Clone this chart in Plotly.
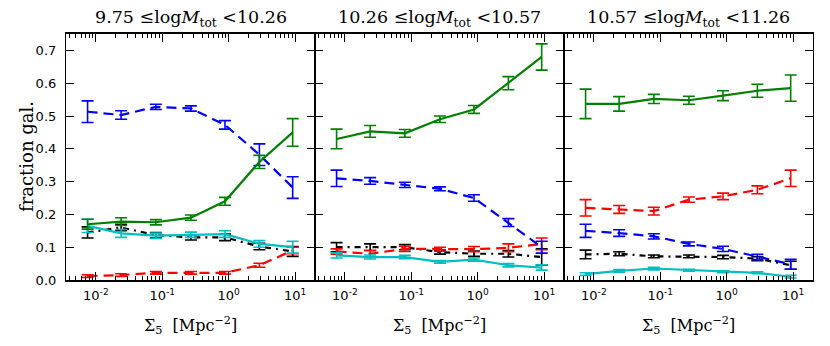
import plotly.graph_objects as go

# Sigma_5 bin centres (Mpc^-2)
sigma5 = [0.0075, 0.024, 0.08, 0.27, 0.88, 2.9, 9.2]

panel_titles = [
    "9.75 ≤log<i>M</i><sub>tot</sub> <10.26",
    "10.26 ≤log<i>M</i><sub>tot</sub> <10.57",
    "10.57 ≤log<i>M</i><sub>tot</sub> <11.26",
]

# panel 1
green_1 = [0.170, 0.178, 0.176, 0.190, 0.240, 0.360, 0.450]
green_1_err = [0.015, 0.012, 0.008, 0.008, 0.012, 0.020, 0.042]
blue_1 = [0.513, 0.503, 0.528, 0.523, 0.473, 0.382, 0.282]
blue_1_err = [0.033, 0.013, 0.008, 0.008, 0.013, 0.033, 0.033]
cyan_1 = [0.165, 0.142, 0.135, 0.138, 0.140, 0.110, 0.100]
cyan_1_err = [0.020, 0.012, 0.008, 0.008, 0.010, 0.010, 0.018]
black_1 = [0.145, 0.160, 0.137, 0.130, 0.130, 0.102, 0.087]
black_1_err = [0.017, 0.010, 0.008, 0.008, 0.010, 0.010, 0.015]
red_1 = [0.012, 0.015, 0.022, 0.022, 0.022, 0.045, 0.090]
red_1_err = [0.004, 0.004, 0.004, 0.004, 0.004, 0.006, 0.010]

# panel 2
green_2 = [0.430, 0.453, 0.447, 0.490, 0.520, 0.600, 0.680]
green_2_err = [0.030, 0.018, 0.012, 0.010, 0.012, 0.020, 0.040]
blue_2 = [0.310, 0.302, 0.290, 0.278, 0.250, 0.175, 0.100]
blue_2_err = [0.025, 0.010, 0.008, 0.006, 0.010, 0.012, 0.018]
red_2 = [0.087, 0.080, 0.095, 0.094, 0.094, 0.098, 0.110]
red_2_err = [0.008, 0.010, 0.008, 0.006, 0.008, 0.012, 0.018]
black_2 = [0.100, 0.100, 0.100, 0.085, 0.080, 0.080, 0.070]
black_2_err = [0.014, 0.010, 0.008, 0.006, 0.008, 0.010, 0.025]
cyan_2 = [0.075, 0.070, 0.070, 0.055, 0.062, 0.045, 0.038]
cyan_2_err = [0.008, 0.006, 0.005, 0.004, 0.005, 0.005, 0.008]

# panel 3
green_3 = [0.537, 0.537, 0.552, 0.548, 0.562, 0.577, 0.585]
green_3_err = [0.045, 0.022, 0.014, 0.012, 0.015, 0.020, 0.040]
red_3 = [0.220, 0.215, 0.210, 0.245, 0.255, 0.275, 0.310]
red_3_err = [0.025, 0.012, 0.012, 0.008, 0.010, 0.012, 0.025]
blue_3 = [0.150, 0.143, 0.133, 0.110, 0.095, 0.070, 0.048]
blue_3_err = [0.020, 0.010, 0.008, 0.006, 0.008, 0.008, 0.015]
black_3 = [0.078, 0.080, 0.072, 0.072, 0.070, 0.065, 0.045]
black_3_err = [0.013, 0.006, 0.004, 0.004, 0.005, 0.006, 0.012]
cyan_3 = [0.018, 0.028, 0.035, 0.030, 0.025, 0.022, 0.010]
cyan_3_err = [0.004, 0.004, 0.004, 0.003, 0.003, 0.003, 0.004]

styles = {
    "green": dict(color="#008000", dash="solid"),
    "blue": dict(color="#0000ff", dash="10px,6px"),
    "red": dict(color="#ff0000", dash="10px,6px"),
    "black": dict(color="#000000", dash="6px,5px,2px,5px"),
    "cyan": dict(color="#00bfbf", dash="solid"),
}

panels = [
    [("black", black_1, black_1_err), ("red", red_1, red_1_err), ("cyan", cyan_1, cyan_1_err),
     ("blue", blue_1, blue_1_err), ("green", green_1, green_1_err)],
    [("black", black_2, black_2_err), ("red", red_2, red_2_err), ("cyan", cyan_2, cyan_2_err),
     ("blue", blue_2, blue_2_err), ("green", green_2, green_2_err)],
    [("black", black_3, black_3_err), ("red", red_3, red_3_err), ("cyan", cyan_3, cyan_3_err),
     ("blue", blue_3, blue_3_err), ("green", green_3, green_3_err)],
]

fig = go.Figure()

# page puts the plot div 8px in from the corner, so size/margins allow for that
W, H = 822, 338
left, right, top, bottom = 58, 17, 26, 66

tickfont = dict(family="DejaVu Sans", size=13, color="black")
title_font = dict(family="DejaVu Serif", size=17.5, color="black")
label_font = dict(family="DejaVu Serif", size=16, color="black")

for i, series in enumerate(panels):
    xa = "x" if i == 0 else f"x{i+1}"
    ya = "y" if i == 0 else f"y{i+1}"
    for name, vals, errs in series:
        st = styles[name]
        fig.add_trace(go.Scatter(
            x=sigma5, y=vals, mode="lines",
            line=dict(color=st["color"], width=2.2, dash=st["dash"]),
            error_y=dict(type="data", array=errs, visible=True, color=st["color"],
                         thickness=1.6, width=6),
            xaxis=xa, yaxis=ya, showlegend=False,
        ))

    x0 = i / 3
    x1 = (i + 1) / 3
    xkey = "xaxis" if i == 0 else f"xaxis{i+1}"
    ykey = "yaxis" if i == 0 else f"yaxis{i+1}"
    fig.layout[xkey] = dict(
        type="log", domain=[x0, x1], range=[-2.45, 1.3], anchor=ya, automargin=False,
        tickvals=[0.01, 0.1, 1, 10],
        ticktext=["10<sup>-2</sup>", "10<sup>-1</sup>", "10<sup>0</sup>", "10<sup>1</sup>"],
        ticks="inside", ticklen=8, tickwidth=1, tickcolor="black", mirror="allticks",
        minor=dict(ticks="inside", ticklen=4, tickwidth=1, tickcolor="black",
                   showgrid=False, dtick="D1"),
        showline=True, linecolor="black", linewidth=1.6,
        showgrid=False, zeroline=False, tickfont=tickfont, ticklabelstandoff=3,
    )
    fig.layout[ykey] = dict(
        domain=[0, 1], range=[0, 0.75], anchor=xa, automargin=False,
        tickvals=[0, 0.1, 0.2, 0.3, 0.4, 0.5, 0.6, 0.7],
        ticks="inside", ticklen=8, tickwidth=1, tickcolor="black", mirror="allticks",
        showline=True, linecolor="black", linewidth=1.2,
        showgrid=False, zeroline=False, tickfont=tickfont,
        showticklabels=(i == 0), tickformat=".1f", ticklabelstandoff=6,
    )
    fig.add_annotation(
        text=panel_titles[i], x=(x0 + x1) / 2, y=1, xref="paper", yref="paper",
        xanchor="center", yanchor="bottom", yshift=2, showarrow=False, font=title_font,
    )
    fig.add_annotation(
        text="Σ<sub>5</sub>  [Mpc<sup>−2</sup>]", x=(x0 + x1) / 2, y=0,
        xref="paper", yref="paper", xanchor="center", yanchor="top", yshift=-32,
        showarrow=False, font=label_font,
    )

fig.add_annotation(
    text="fraction gal.", x=0, y=0.5, xref="paper", yref="paper",
    xanchor="center", yanchor="middle", xshift=-40, textangle=-90,
    showarrow=False, font=dict(family="DejaVu Serif", size=18, color="black"),
)

fig.update_layout(
    template="none",
    width=W, height=H,
    margin=dict(l=left, r=right, t=top, b=bottom),
    paper_bgcolor="white", plot_bgcolor="white",
)

fig.write_html("out.html")
